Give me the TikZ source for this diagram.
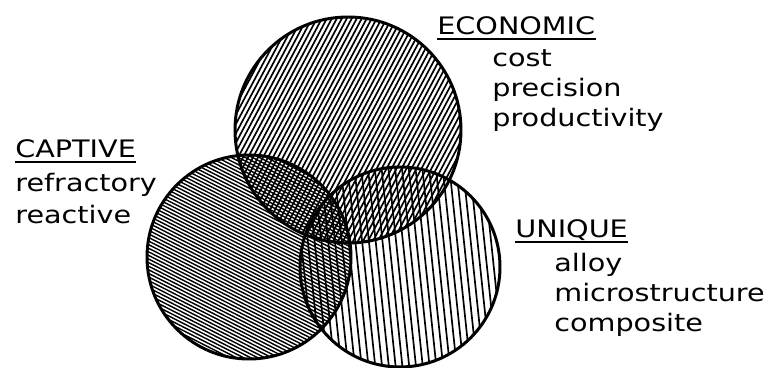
\documentclass[tikz,border=0pt]{standalone}
\usepackage{fontspec}
\setmainfont{DejaVu Sans}[FakeStretch=1.19]
\usepackage{tikz}
\usetikzlibrary{positioning}
\tikzset{
  hatchline/.style={line width=0.95pt,black},
  ringline/.style={line width=1.7pt,black},
  headlbl/.style={anchor=base west,inner sep=0pt,font=\fontsize{13.7}{16}\selectfont},
  itemlbl/.style={headlbl},
  uline/.style={line width=0.9pt,black},
}

\begin{document}
\begin{tikzpicture}
  \useasboundingbox (0,0) rectangle (15.44,7.36);
  % ---- circle centres (economic on top, captive left, unique right) ----
  \coordinate (econ) at (6.96,4.76);
  \coordinate (capt) at (4.98,2.22);
  \coordinate (uniq) at (8.00,2.02);

  % ---- hatching, one family of lines per circle ----
  \begin{scope}[shift={(econ)},rotate=-28]
    \clip (0,0) circle (2.26);
    \foreach \u in {-2.30,-2.212,...,2.32} \draw[hatchline] (\u,-2.4) -- (\u,2.4);
  \end{scope}
  \begin{scope}[shift={(capt)},rotate=63]
    \clip (0,0) circle (2.04);
    \foreach \u in {-2.10,-2.036,...,2.12} \draw[hatchline,line width=0.8pt] (\u,-2.2) -- (\u,2.2);
  \end{scope}
  \begin{scope}[shift={(uniq)},rotate=6]
    \clip (0,0) circle (2.00);
    \foreach \u in {-2.05,-1.915,...,2.06} \draw[hatchline] (\u,-2.2) -- (\u,2.2);
  \end{scope}

  % ---- outlines ----
  \draw[ringline] (econ) circle (2.26);
  \draw[ringline] (capt) circle (2.04);
  \draw[ringline] (uniq) circle (2.00);

  % ---- labels ----
  \node[headlbl] (econhd) at (8.74,6.66) {ECONOMIC};
  \node[itemlbl] (cost) at (9.84,6.02) {cost};
  \node[itemlbl] (prec) at (9.84,5.42) {precision};
  \node[itemlbl] (prod) at (9.84,4.82) {productivity};

  \node[headlbl] (capthd) at (0.30,4.20) {CAPTIVE};
  \node[itemlbl] (refr) at (0.30,3.52) {refractory};
  \node[itemlbl] (reac) at (0.30,2.88) {reactive};

  \node[headlbl] (uniqhd) at (10.30,2.60) {UNIQUE};
  \node[itemlbl] (alloy) at (11.08,1.92) {alloy};
  \node[itemlbl] (micro) at (11.08,1.32) {microstructure};
  \node[itemlbl] (compo) at (11.08,0.72) {composite};

  \draw[uline] ([yshift=-2.2pt]econhd.base west) -- ([yshift=-2.2pt]econhd.base east);
  \draw[uline] ([yshift=-2.2pt]capthd.base west) -- ([yshift=-2.2pt]capthd.base east);
  \draw[uline] ([yshift=-2.2pt]uniqhd.base west) -- ([yshift=-2.2pt]uniqhd.base east);
\end{tikzpicture}
\end{document}
